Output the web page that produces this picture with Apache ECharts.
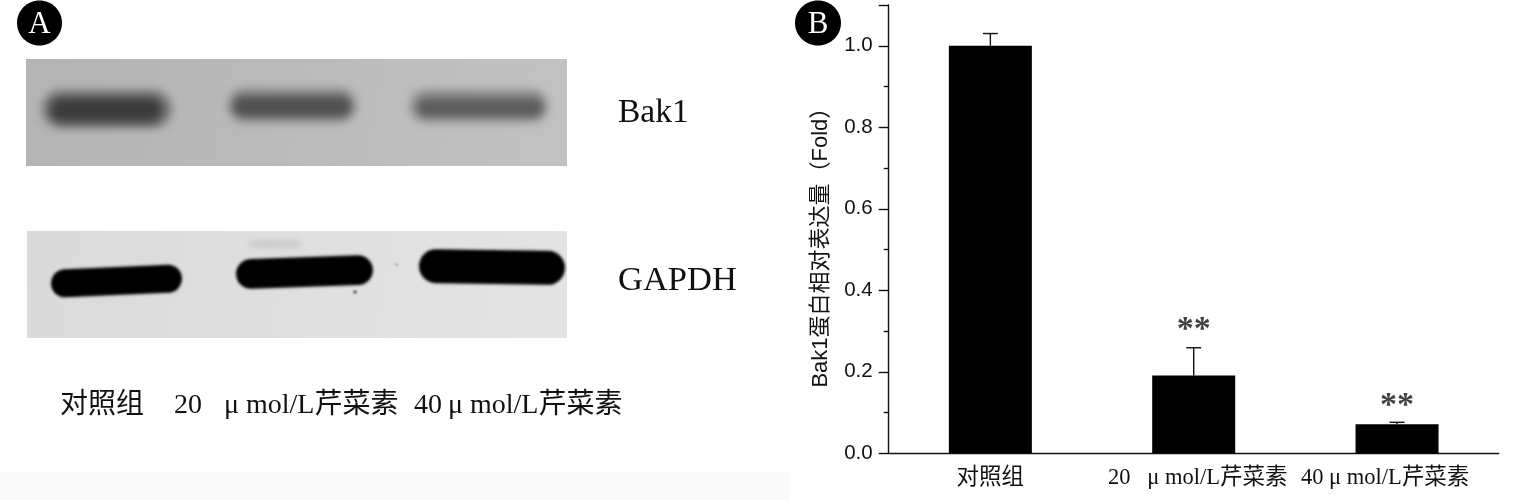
<!DOCTYPE html>
<html><head><meta charset="utf-8">
<script src="https://cdn.jsdelivr.net/npm/echarts@6/dist/echarts.min.js"></script>
<style>html,body{margin:0;padding:0;background:#fff}#c{width:1532px;height:500px}</style>
</head><body><div id="c"></div>
<script>
var categories = ['对照组', '20   μ mol/L芹菜素', '40 μ mol/L芹菜素'];
var means = [1.0, 0.191, 0.071];
var errorTops = [1.03, 0.259, 0.076];
var significance = ['', '**', '**'];
var significanceLevel = [null, 0.302, 0.115];
var yAxisTitle = 'Bak1蛋白相对表达量（Fold）';

var SERIF = '"Liberation Serif","Noto Sans CJK SC",serif';

function txt(x, y, s, size, color, align) {
  return {type:'text', x:x, y:y, silent:true, style:{text:s, fontFamily:SERIF, fontSize:size,
    fill:color||'#111', textAlign:align||'left', textVerticalAlign:'middle'}};
}
function panel(x, y, w, h, c1, c2) {
  return {type:'rect', shape:{x:x,y:y,width:w,height:h}, silent:true, style:{fill:{type:'linear',x:0,y:0,x2:1,y2:1,
    colorStops:[{offset:0,color:c1},{offset:1,color:c2}]}}};
}
// western-blot band, blurred by drawing the body off-canvas with a shadow offset back
function band(x, y, w, h, color, blur, rot) {
  var off = 3000; rot = rot || 0;
  return {type:'rect', silent:true, x:x + w/2, y:y + h/2, rotation:rot,
    shape:{x:-w/2 - off, y:-h/2, width:w, height:h, r:h/2},
    style:{fill:color, shadowColor:color, shadowBlur:blur,
      shadowOffsetX:off*Math.cos(rot), shadowOffsetY:-off*Math.sin(rot)}};
}

var graphics = [
  {type:'rect', silent:true, shape:{x:0,y:472,width:790,height:28}, style:{fill:'#fafafa'}},
  {type:'ellipse', silent:true, shape:{cx:39.5,cy:23,rx:22.5,ry:22.5}, style:{fill:'#000'}},
  {type:'ellipse', silent:true, shape:{cx:818,cy:23,rx:23,ry:22.5}, style:{fill:'#000'}},
  txt(39.5, 25, 'A', 31, '#fff', 'center'),
  txt(818, 25, 'B', 31, '#fff', 'center'),
  panel(26, 59, 541, 107, '#b4b4b4', '#c2c2c2'),
  band(42, 90, 130, 38, '#747474', 10),
  band(50, 98, 112, 24, '#3c3c3c', 8),
  band(228, 89, 128, 33, '#7e7e7e', 10),
  band(234, 97, 116, 19, '#525252', 7),
  band(410, 90, 138, 32, '#868686', 10),
  band(418, 99, 124, 17, '#5e5e5e', 7),
  panel(27, 231, 540, 107, '#dadada', '#e4e4e4'),
  band(250, 241, 50, 6, '#c4c4c4', 6),
  band(353, 290, 4, 4, '#777', 2),
  band(395, 263, 3, 3, '#aaa', 2),
  band(51, 267, 131, 28, '#000', 3, 0.045),
  band(236, 257, 137, 30, '#000', 3, 0.035),
  band(419, 250, 146, 34, '#000', 3, -0.015),
  txt(618, 113, 'Bak1', 33.5),
  txt(618, 281, 'GAPDH', 34.5),
  txt(60, 406, '对照组', 28),
  txt(174, 406, '20', 28),
  txt(224, 406, 'μ mol/L芹菜素', 28),
  txt(414, 406, '40', 28),
  txt(448, 406, 'μ mol/L芹菜素', 28)
];

var chart = echarts.init(document.getElementById('c'), null, {renderer:'canvas'});
chart.setOption({
  animation:false,
  backgroundColor:'#fff',
  graphic:graphics,
  grid:{left:888.7, right:33.3, top:5, bottom:46.7, containLabel:false},
  xAxis:[{
    type:'category', data:categories.map(function(c,i){
      if (i===1) return {value:c, textStyle:{padding:[0,0,0,8]}};
      if (i===2) return {value:c, textStyle:{padding:[0,24,0,0]}};
      return c;
    }), boundaryGap:true,
    axisLine:{onZero:false, lineStyle:{color:'#111',width:1.4}},
    axisTick:{alignWithLabel:true, length:9, lineStyle:{color:'#111',width:1.4}},
    axisLabel:{interval:0, margin:14, fontSize:22.5, color:'#111', fontFamily:SERIF, hideOverlap:false},
    splitLine:{show:false}
  },{
    type:'category', data:categories, boundaryGap:true, position:'bottom',
    axisLine:{show:false},
    axisTick:{alignWithLabel:false, length:5, lineStyle:{color:'#111',width:1.4}},
    axisLabel:{show:false}, splitLine:{show:false}
  }],
  yAxis:{
    type:'value', min:0, max:1.1, interval:0.2,
    name:yAxisTitle, nameLocation:'middle', nameGap:57, nameRotate:90,
    nameTextStyle:{fontSize:22, color:'#111', padding:[0,26,0,0], fontFamily:'"Liberation Sans","Noto Sans CJK SC",sans-serif'},
    axisLine:{show:true, lineStyle:{color:'#111',width:1.4}},
    axisTick:{show:true, length:10, lineStyle:{color:'#111',width:1.4}},
    minorTick:{show:true, splitNumber:2, length:5, lineStyle:{color:'#111',width:1.4}},
    axisLabel:{margin:16, fontSize:20.5, color:'#111', fontFamily:'"Liberation Sans",sans-serif', showMaxLabel:false,
      formatter:function(v){return v.toFixed(1);}},
    splitLine:{show:false}, minorSplitLine:{show:false}
  },
  series:[
    {type:'bar', data:means, barWidth:83, itemStyle:{color:'#000'}, z:3},
    {type:'custom', z:2, data:means.map(function(m,i){return [i,m,errorTops[i]];}),
     encode:{x:0,y:[1,2]},
     renderItem:function(params,api){
       var a=api.coord([api.value(0),api.value(1)]), b=api.coord([api.value(0),api.value(2)]);
       var st={stroke:'#111',lineWidth:1.4};
       return {type:'group',children:[
         {type:'line',shape:{x1:a[0],y1:a[1],x2:b[0],y2:b[1]},style:st},
         {type:'line',shape:{x1:b[0]-7.5,y1:b[1],x2:b[0]+7.5,y2:b[1]},style:st}
       ]};
     }},
    {type:'scatter', symbolSize:0, z:4, data:significanceLevel.map(function(v,i){return v===null?null:[i,v];}),
     label:{show:true, position:'inside', fontSize:34, fontWeight:'bold', color:'#111', fontFamily:SERIF,
       formatter:function(p){return significance[p.dataIndex];}}}
  ]
});
</script></body></html>
